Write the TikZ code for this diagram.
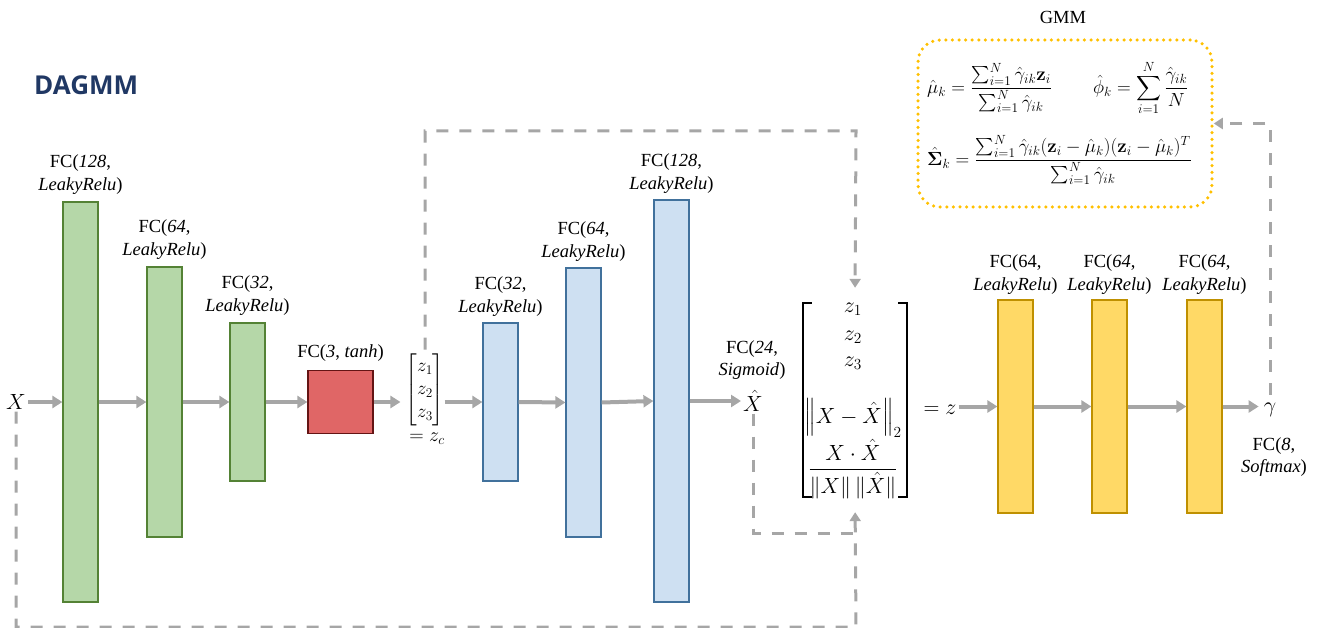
\RequirePackage{fix-cm}
\documentclass[tikz,border=0pt]{standalone}
\usepackage{amsmath,bm}
\usepackage[no-math]{fontspec}
\setmainfont{Liberation Serif}
\newfontfamily\titlefont{Open Sans}
\usetikzlibrary{arrows.meta,positioning}
\definecolor{gfill}{RGB}{181,215,168}
\definecolor{gdraw}{RGB}{84,130,53}
\definecolor{bfill}{RGB}{206,224,242}
\definecolor{bdraw}{RGB}{65,113,156}
\definecolor{rfill}{RGB}{224,102,102}
\definecolor{rdraw}{RGB}{100,20,20}
\definecolor{yfill}{RGB}{255,217,102}
\definecolor{ydraw}{RGB}{191,144,0}
\definecolor{arr}{RGB}{166,166,166}
\definecolor{gmmc}{RGB}{255,192,0}
\definecolor{ttl}{RGB}{32,56,100}
\begin{document}
\begin{tikzpicture}[x=1pt,y=-1pt,
  bar/.style={rectangle, minimum width=35pt, inner sep=0pt, line width=1.2pt},
  gbar/.style={bar, fill=gfill, draw=gdraw},
  bbar/.style={bar, fill=bfill, draw=bdraw},
  ybar/.style={bar, fill=yfill, draw=ydraw},
  lbl/.style={font=\fontsize{18.5}{22.5}\selectfont, align=center, inner sep=0pt},
  mth/.style={font=\fontsize{22}{26}\selectfont, inner sep=2pt},
  eq/.style={font=\fontsize{19}{22}\selectfont, inner sep=0pt},
  flow/.style={draw=arr, line width=4pt, -{Triangle[length=10pt,width=12pt]}},
  fb/.style={draw=arr, line width=3pt, dash pattern=on 12pt off 11pt},
  fbtip/.style={fb, -{Triangle[length=9pt,width=11pt]}},
  brk/.style={draw=black, line width=1.8pt}]
\useasboundingbox (0,0) rectangle (1324,628);

\node[anchor=west, font=\titlefont\bfseries\fontsize{26}{30}\selectfont, text=ttl, inner sep=0pt] (title) at (34,85) {DAGMM};

% encoder
\node[mth] (X) at (16,402) {$X$};
\node[gbar, minimum height=400pt] (b1) at (80.5,402) {};
\node[gbar, minimum height=270pt] (b2) at (164.5,402) {};
\node[gbar, minimum height=158pt] (b3) at (247.5,402) {};
\node[rectangle, minimum width=65pt, minimum height=63pt, inner sep=0pt, line width=1.2pt, fill=rfill, draw=rdraw] (red) at (340.5,402) {};
\node[lbl, above=7pt of b1] (l1) {FC(\textit{128},\\\textit{LeakyRelu})};
\node[lbl, above=7pt of b2] (l2) {FC(\textit{64},\\\textit{LeakyRelu})};
\node[lbl, above=7pt of b3] (l3) {FC(\textit{32},\\\textit{LeakyRelu})};
\node[lbl, above=8pt of red] (l4) {FC(\textit{3}, \textit{tanh})};

\node[inner sep=0pt, font=\fontsize{19}{23}\selectfont] (zc) at (425,390) {$\begin{bmatrix}z_1\\z_2\\z_3\end{bmatrix}$};
\node[inner sep=0pt, font=\fontsize{20}{24}\selectfont] (zclbl) at (427,439) {$=z_c$};

% decoder
\node[bbar, minimum height=158pt] (b4) at (500.5,402) {};
\node[bbar, minimum height=269pt] (b5) at (583.5,402.5) {};
\node[bbar, minimum height=402pt] (b6) at (671.5,401) {};
\node[lbl, above=6pt of b4] (l5) {FC(\textit{32},\\\textit{LeakyRelu})};
\node[lbl, above=6pt of b5] (l6) {FC(\textit{64},\\\textit{LeakyRelu})};
\node[lbl, above=6pt of b6] (l7) {FC(\textit{128},\\\textit{LeakyRelu})};
\node[mth] (Xh) at (753,401) {$\hat{X}$};
\node[lbl] (l8) at (752,360) {FC(\textit{24},\\\textit{Sigmoid})};

% z matrix
\node[minimum width=104pt, minimum height=194pt, inner sep=0pt] (zbox) at (855,400) {};
\draw[brk] ([xshift=9pt]zbox.north west) -- (zbox.north west) -- (zbox.south west) -- ([xshift=9pt]zbox.south west);
\draw[brk] ([xshift=-9pt]zbox.north east) -- (zbox.north east) -- (zbox.south east) -- ([xshift=-9pt]zbox.south east);
\node[mth] (m1) at (853,309) {$z_1$};
\node[mth] (m2) at (853,337) {$z_2$};
\node[mth] (m3) at (853,363) {$z_3$};
\node[mth] (m4) at (853,418) {$\left\|X-\hat{X}\right\|_2$};
\node[mth] (m5) at (853,469) {$\dfrac{X\cdot\hat{X}}{\|X\|\,\|\hat{X}\|}$};
\node[mth] (zeq) at (940,410) {$=z$};

% estimation network
\node[ybar, minimum height=213pt] (b7) at (1015.5,406.5) {};
\node[ybar, minimum height=213pt] (b8) at (1109.5,406.5) {};
\node[ybar, minimum height=213pt] (b9) at (1204.5,406.5) {};
\node[lbl, above=5pt of b7] (l9) {FC(64,\\\textit{LeakyRelu})};
\node[lbl, above=5pt of b8] (l10) {FC(\textit{64},\\\textit{LeakyRelu})};
\node[lbl, above=5pt of b9] (l11) {FC(\textit{64},\\\textit{LeakyRelu})};
\node[mth] (gam) at (1270,410) {$\gamma$};
\node[lbl] (l12) at (1274,457) {FC(\textit{8},\\\textit{Softmax})};

% GMM
\node[rectangle, rounded corners=22pt, minimum width=294pt, minimum height=167pt, draw=gmmc, line width=3.5pt, line cap=round, dash pattern=on 0pt off 6.6pt] (gmm) at (1065,123.5) {};
\node[lbl] (gmmlbl) at (1063,17) {GMM};
\node[eq, anchor=west] (e1) at (927,88) {$\displaystyle\hat\mu_k=\frac{\sum_{i=1}^N\hat\gamma_{ik}\mathbf{z}_i}{\sum_{i=1}^N\hat\gamma_{ik}}$};
\node[eq, anchor=west] (e2) at (1093,88) {$\displaystyle\hat\phi_k=\sum_{i=1}^N\frac{\hat\gamma_{ik}}{N}$};
\node[eq, anchor=west] (e3) at (927,160) {$\displaystyle\hat{\bm\Sigma}_k=\frac{\sum_{i=1}^N\hat\gamma_{ik}(\mathbf{z}_i-\hat\mu_k)(\mathbf{z}_i-\hat\mu_k)^T}{\sum_{i=1}^N\hat\gamma_{ik}}$};

% flow arrows
\draw[flow] (X.east) -- (X.east -| b1.west);
\draw[flow] (b1.east) -- (b2.west);
\draw[flow] (b2.east) -- (b3.west);
\draw[flow] (b3.east) -- (red.west);
\draw[flow, shorten >=5pt] (red.east) -- (red.east -| zc.west);
\draw[flow] (zc.east |- b4.west) -- (b4.west);
\draw[flow] (b4.east) -- (b5.west);
\draw[flow] (b5.east) -- (b6.west);
\draw[flow] (b6.east) -- (b6.east -| Xh.west);
\draw[flow] (zeq.east |- b7.west) -- (b7.west);
\draw[flow] (b7.east) -- (b8.west);
\draw[flow] (b8.east) -- (b9.west);
\draw[flow, shorten >=3pt] (b9.east) -- (b9.east -| gam.west);

% feedback dashed lines
\coordinate (bot) at (856,627);
\coordinate (top) at (856,131);
\coordinate (jn) at (856,533);
\draw[fbtip, shorten >=15pt] (X.south) |- (bot) -- (zbox.south);
\draw[fb] (Xh.south) |- (jn);
\draw[fbtip, shorten <=4pt, shorten >=15pt] (zc.north) |- (top) -- (zbox.north);
\draw[fbtip, shorten <=6pt] (gam.north) |- (gmm.east);
\end{tikzpicture}
\end{document}
